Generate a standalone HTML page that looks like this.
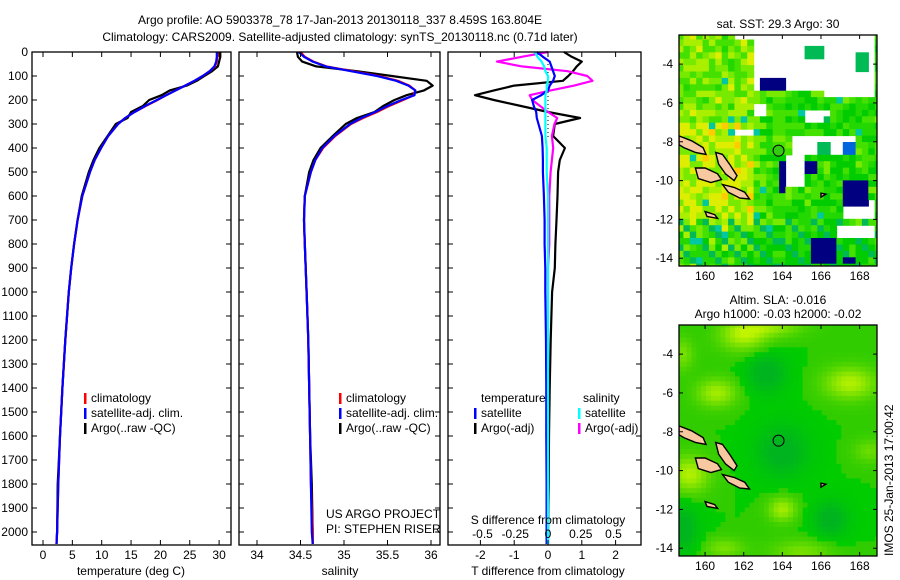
<!DOCTYPE html>
<html><head><meta charset="utf-8">
<style>
html,body{margin:0;padding:0;background:#fff;}
svg{display:block;font-family:"Liberation Sans",sans-serif;}
text{font-size:12px;fill:#000;}
</style></head>
<body>
<svg id="chart" width="900" height="580" viewBox="0 0 900 580" xmlns="http://www.w3.org/2000/svg">
<text x="340" y="24" text-anchor="middle">Argo profile: AO 5903378_78 17-Jan-2013 20130118_337 8.459S 163.804E</text>
<text x="340" y="41" text-anchor="middle">Climatology: CARS2009. Satellite-adjusted climatology: synTS_20130118.nc (0.71d later)</text>
<g id="p1"></g>
<g id="p2"></g>
<g id="p3"></g>
<g id="m1"></g>
<g id="m2"></g>
<text transform="translate(893,556) rotate(-90)" font-size="12">IMOS 25-Jan-2013 17:00:42</text>
</svg>
<script>
// ---------- data ----------
const depthTicks = [0,100,200,300,400,500,600,700,800,900,1000,1100,1200,1300,1400,1500,1600,1700,1800,1900,2000];
const tempTicks = [0,5,10,15,20,25,30];
const salTicks = [34,34.5,35,35.5,36];
const tdiffTicks = [-2,-1,0,1,2];
const sdiffTicks = [-0.5,-0.25,0,0.25,0.5];
const depths = [0,20,40,60,80,100,120,140,160,180,200,225,250,275,300,350,400,450,500,600,700,800,900,1000,1200,1400,1600,1800,2000,2050];
const tempClim = [29.8,29.7,29.6,29.3,28.4,27.2,25.8,24.2,22.6,21.0,19.5,17.5,15.6,14.0,12.8,11.1,9.9,8.8,8.0,6.7,5.9,5.3,4.8,4.4,3.8,3.3,2.9,2.6,2.4,2.3];
const tempSat = [29.6,29.6,29.5,29.2,28.4,27.2,25.8,24.2,22.6,21.0,19.4,17.4,15.6,14.0,12.8,11.1,9.9,8.8,8.0,6.7,5.9,5.3,4.8,4.4,3.8,3.3,2.9,2.6,2.4,2.3];
const tempArgo = [30.2,30.2,30.0,29.8,28.8,27.5,26.2,24.5,21.6,20.2,18.1,17.0,15.0,14.4,12.4,11.0,9.6,8.6,7.8,6.6,5.9,5.3,4.8,4.4,3.8,3.3,2.9,2.5,2.4,2.3];
const salClim = [34.50,34.55,34.65,34.80,35.10,35.40,35.62,35.75,35.82,35.80,35.68,35.52,35.38,35.22,35.08,34.90,34.76,34.67,34.62,34.55,34.54,34.55,34.56,34.57,34.59,34.60,34.61,34.62,34.64,34.64];
const salSat = [34.48,34.54,34.64,34.79,35.08,35.38,35.60,35.74,35.82,35.81,35.66,35.50,35.36,35.20,35.07,34.89,34.75,34.67,34.62,34.55,34.54,34.55,34.56,34.57,34.59,34.60,34.61,34.62,34.63,34.64];
const salArgo = [34.46,34.47,34.52,34.68,35.15,35.55,35.95,36.02,35.92,35.72,35.58,35.45,35.35,35.15,35.02,34.87,34.73,34.65,34.60,34.55,34.54,34.55,34.56,34.57,34.59,34.60,34.61,34.63,34.64,34.64];
const tdiffSat = [-0.33,-0.15,0.05,0.1,0.15,0.2,0.15,0.05,0.0,-0.2,-0.47,-0.42,-0.35,-0.33,-0.28,-0.18,-0.16,-0.15,-0.15,-0.12,-0.1,-0.1,-0.08,-0.08,-0.06,-0.05,-0.05,-0.04,-0.04,-0.04];
const tdiffArgo = [0.47,0.7,1.0,0.85,0.74,0.6,0.44,-1.0,-1.6,-2.16,-1.6,-0.8,0.0,0.95,0.2,0.15,0.5,0.35,0.3,0.28,0.25,0.22,0.2,0.12,0.08,0.05,0.03,0.02,0.0,0.0];
const sdiffSat = [-0.10,-0.08,-0.05,-0.03,-0.02,0.0,0.0,-0.01,-0.01,-0.02,-0.02,-0.02,-0.02,-0.02,-0.02,-0.02,-0.01,-0.01,-0.01,0.0,0.0,0.0,0.0,0.0,0.0,0.0,0.0,0.0,0.0,0.0];
const sdiffArgo = [0.0,-0.2,-0.39,-0.2,0.15,0.3,0.34,0.2,0.02,-0.14,-0.12,-0.06,0.0,0.07,0.05,0.03,0.04,0.03,0.02,0.01,0.01,0.01,0.0,0.0,0.0,0.0,0.0,0.0,0.0,0.0];

const NS = "http://www.w3.org/2000/svg";
function mk(parent, tag, attrs){const e=document.createElementNS(NS,tag);for(const k in attrs)e.setAttribute(k,attrs[k]);parent.appendChild(e);return e;}
const pTop=52, pBot=545;
const yD = d => pTop + d*0.24;

function panel(g, x0, x1, xs, ticks, fmt, showY){
  for(const d of depthTicks){
    const y=yD(d);
    const t1=mk(g,'line',{x1:x0,x2:x0+5,y1:y,y2:y,stroke:'#000'});
    
    
    mk(g,'line',{x1:x1-5,x2:x1,y1:y,y2:y,stroke:'#000'});
    if(showY){
      const t=mk(g,'text',{x:x0-4,y:y+4,'text-anchor':'end'});t.textContent=d;
      
      
    }
  }
  for(const v of ticks){
    const x=xs(v);
    mk(g,'line',{x1:x,x2:x,y1:pBot,y2:pBot-5,stroke:'#000'});
    mk(g,'line',{x1:x,x2:x,y1:pTop,y2:pTop+5,stroke:'#000'});
    const t=mk(g,'text',{x:x,y:pBot+14,'text-anchor':'middle'});t.textContent=fmt(v);
    
    
  }
  const r=mk(g,'rect',{x:x0,y:pTop,width:x1-x0,height:pBot-pTop,fill:'none',stroke:'#000','stroke-width':1.3});
  
  
}
function series(g, xs, vals, color, name){
  const pts=vals.map((v,i)=>xs(v).toFixed(1)+','+yD(depths[i]).toFixed(1)).join(' ');
  const p=mk(g,'polyline',{points:pts,fill:'none',stroke:color,'stroke-width':2.2,'stroke-linejoin':'round'});
  
  
}
function txt(g,x,y,s,name,anchor){const t=mk(g,'text',{x:x,y:y,'text-anchor':anchor||'start'});t.textContent=s;
  
  return t;}
function legend(g,x,y,color,label){
  const r=mk(g,'rect',{x:x,y:y-9,width:2.5,height:11,fill:color});
  
  
  txt(g,x+7,y,label,'legend-entry');
}

// Panel 1
const p1=document.getElementById('p1');
const xT=v=>43+v*5.87;
series(p1,xT,tempArgo,'#000','argo-temperature-line');
series(p1,xT,tempClim,'#f00','climatology-temperature-line');
series(p1,xT,tempSat,'#00f','satellite-temperature-line');
panel(p1,32,231,xT,tempTicks,v=>v,true);
txt(p1,131,575,'temperature (deg C)','x-axis-title','middle');
legend(p1,84,402,'#f00','climatology');
legend(p1,84,417,'#00f','satellite-adj. clim.');
legend(p1,84,432,'#000','Argo(..raw -QC)');

// Panel 2
const p2=document.getElementById('p2');
const xS=v=>257+(v-34)*87;
series(p2,xS,salArgo,'#000','argo-salinity-line');
series(p2,xS,salClim,'#f00','climatology-salinity-line');
series(p2,xS,salSat,'#00f','satellite-salinity-line');
panel(p2,239,440,xS,salTicks,v=>v,false);
txt(p2,340,575,'salinity','x-axis-title','middle');
legend(p2,339,402,'#f00','climatology');
legend(p2,339,417,'#00f','satellite-adj. clim.');
legend(p2,339,432,'#000','Argo(..raw -QC)');
txt(p2,326,518,'US ARGO PROJECT','project-label');
txt(p2,326,533,'PI: STEPHEN RISER','pi-label');

// Panel 3
const p3=document.getElementById('p3');
const xTd=v=>548+v*33.8;
const xSd=v=>548+v*131;
mk(p3,'line',{x1:548,x2:548,y1:pTop,y2:140,stroke:'#000','stroke-dasharray':'1,3'});
series(p3,xTd,tdiffArgo,'#000','argo-temperature-diff-line');
series(p3,xSd,sdiffArgo,'#f0f','argo-salinity-diff-line');
series(p3,xTd,tdiffSat,'#00f','satellite-temperature-diff-line');
series(p3,xSd,sdiffSat,'#0ff','satellite-salinity-diff-line');
panel(p3,448,641,xTd,tdiffTicks,v=>v,false);
for(const v of sdiffTicks){txt(p3,xSd(v),538,String(v),'s-diff-tick-label','middle');}
txt(p3,548,524,'S difference from climatology','s-diff-axis-title','middle');
txt(p3,548,575,'T difference from climatology','x-axis-title','middle');
txt(p3,481,402,'temperature','legend-title');
txt(p3,583,402,'salinity','legend-title');
legend(p3,474,417,'#00f','satellite');
legend(p3,474,432,'#000','Argo(-adj)');
legend(p3,578,417,'#0ff','satellite');
legend(p3,578,432,'#f0f','Argo(-adj)');

// ---------- maps ----------
const lonTicks=[160,162,164,166,168];
const latTicks=[-4,-6,-8,-10,-12,-14];
const islands=[
 [[158.65,-7.7],[159.3,-7.95],[159.9,-8.3],[160.05,-8.65],[159.5,-8.55],[158.9,-8.3],[158.65,-8.15]],
 [[160.55,-8.55],[160.9,-8.65],[161.3,-9.2],[161.65,-9.75],[161.5,-10.0],[161.05,-9.65],[160.7,-9.15]],
 [[159.5,-9.35],[160.0,-9.35],[160.65,-9.65],[160.85,-9.95],[160.3,-10.1],[159.65,-9.9]],
 [[160.9,-10.2],[161.5,-10.35],[162.05,-10.6],[162.3,-10.95],[161.8,-10.9],[161.2,-10.6]],
 [[160.0,-11.6],[160.5,-11.75],[160.65,-11.95],[160.1,-11.85]],
 [[166.0,-10.65],[166.25,-10.7],[166.0,-10.85]]
];
const sstPalette=['#00cc00','#22d800','#44e000','#77ea00','#aaee00','#ddee00','#ffcc00','#00bb55','#00c8a0'];
const sstWhite=[[162.4,168.7,-2.4,-5.3],[166,168.7,-5.3,-5.6],[161.6,168.7,-2.4,-2.75],[162.6,163.3,-5.9,-6.8],[165.0,166.5,-6.3,-7.0],[161.6,162.5,-7.3,-7.6],[164.4,167.8,-7.8,-8.75],[164.1,165.0,-8.75,-10.2],[167.0,168.7,-11.1,-12.1],[166.8,168.7,-12.3,-12.8],[167.6,168.7,-13.8,-14.1]];
const sstGreen=[[165.3,166.0,-2.9,-3.6],[167.8,168.5,-3.5,-4.3],[165.8,166.5,-8.1,-8.75],[166.0,166.6,-6.6,-7.1]];
const sstNavy=[[162.9,164.1,-4.7,-5.4],[165.0,165.7,-8.85,-9.5],[163.8,164.2,-9.1,-10.5],[167.0,168.6,-10.0,-11.3],[165.5,166.8,-12.8,-14.4],[167.0,167.8,-13.8,-14.4],[168.4,168.6,-3.8,-4.4]];
const sstBlue=[[167.0,167.8,-8.1,-8.75]];
const slaBlobs=[[162,-3,1.2,0.8],[160.6,-6,1.0,0.7],[167.5,-5.5,1.3,0.8],[159.2,-10.2,1.0,0.9],[164,-12,0.7,0.6],[165,-14.2,1.5,0.6],[161,-14,1,0.5],[168.5,-9,0.8,0.6],[163.5,-2.6,1.5,0.5],[158.8,-4,0.6,0.8]];
const slaBlobAmp=[0.9,0.8,0.9,0.9,0.8,0.5,0.5,0.4,0.6,0.5];
const slaDark=[[163.2,-5,1.0,1.0],[164,-9,1.3,1.3],[158.8,-13,0.8,1.2],[166.5,-12.5,0.9,0.9]];

function map(g, x0, y0, title, titleLines, kind){
  const w=198, h=231, lon0=158.65, lon1=168.9, lat0=-2.5, lat1=-14.4;
  const X=lon=>x0+(lon-lon0)/(lon1-lon0)*w;
  const Y=lat=>y0+(lat0-lat)/(lat0-lat1)*h;
  const cid='clip'+kind;
  const cp=mk(g,'clipPath',{id:cid});mk(cp,'rect',{x:x0,y:y0,width:w,height:h});
  const cg=mk(g,'g',{'clip-path':'url(#'+cid+')'});
  const inR=(lon,lat,r)=>lon>=r[0]&&lon<r[1]&&lat<=r[2]&&lat>r[3];
  const step= kind==='sst'?0.33:0.25;
  for(let lon=lon0-0.1;lon<lon1;lon+=step){
    for(let lat=lat0+0.1;lat>lat1-step;lat-=step){
      const cl=lon+step/2, ca=lat-step/2;
      let col;
      if(kind==='sst'){
        if(sstNavy.some(r=>inR(cl,ca,r))) col='#000080';
        else if(sstBlue.some(r=>inR(cl,ca,r))) col='#0066dd';
        else if(sstGreen.some(r=>inR(cl,ca,r))) col='#00bb55';
        else if(sstWhite.some(r=>inR(cl,ca,r))) continue;
        else{
          const i=Math.round(lon*3), j=Math.round(lat*3);
          const hsh=((i*73856093)^(j*19349663))>>>0;
          let warm=(cl<162.5?1.8:0.4)+(ca<-7&&ca>-12&&cl<163?1.3:0)-(ca<-12.5?1.2:0)-(cl>164.5?0.6:0);
          let k=Math.floor((hsh%1000)/1000*3.5+warm);
          if(ca<-12&&hsh%4===0)k=7; if(hsh%41===0)k=8;
          k=Math.max(0,Math.min(8,k)); if(k===6&&hsh%3!==0)k=5;
          col=sstPalette[k];
        }
      } else {
        let v=0;
        slaBlobs.forEach((b,n)=>{v+=slaBlobAmp[n]*Math.exp(-(((cl-b[0])/b[2])**2+((ca-b[1])/b[3])**2));});
        slaDark.forEach(b=>{v-=0.6*Math.exp(-(((cl-b[0])/b[2])**2+((ca-b[1])/b[3])**2));});
        v=Math.max(-0.5,Math.min(1,v));
        const r=v>0?Math.round(0x30+v*0x90):0, gg=v>0?Math.round(0xcc+v*0x28):Math.round(0xcc+v*0.5*0x60), bb=v<0?Math.round(-v*0x40):0;
        col='rgb('+r+','+gg+','+bb+')';
      }
      mk(cg,'rect',{x:X(lon).toFixed(1),y:Y(lat).toFixed(1),width:(step*19.3+0.6).toFixed(1),height:(step*19.4+0.6).toFixed(1),fill:col});
    }
  }
  islands.forEach(isl=>{
    const p=mk(cg,'polygon',{points:isl.map(q=>X(q[0]).toFixed(1)+','+Y(q[1]).toFixed(1)).join(' '),fill:'#f8c8a0',stroke:'#000','stroke-width':1.4});
    
    
  });
  const circ=mk(g,'circle',{cx:X(163.804),cy:Y(-8.459),r:5.5,fill:kind==='sst'?'#33cc11':'none',stroke:'#000','stroke-width':1});
  
  
  const fr=mk(g,'rect',{x:x0,y:y0,width:w,height:h,fill:'none',stroke:'#000','stroke-width':1.3});
  
  
  for(const lo of lonTicks){const x=X(lo);
    mk(g,'line',{x1:x,x2:x,y1:y0,y2:y0+4,stroke:'#000'});mk(g,'line',{x1:x,x2:x,y1:y0+h,y2:y0+h-4,stroke:'#000'});
    txt(g,x,y0+h+14,String(lo),'lon-tick-label','middle');}
  for(const la of latTicks){const y=Y(la);
    mk(g,'line',{x1:x0,x2:x0+4,y1:y,y2:y,stroke:'#000'});mk(g,'line',{x1:x0+w-4,x2:x0+w,y1:y,y2:y,stroke:'#000'});
    txt(g,x0-6,y+4,String(la),'lat-tick-label','end');}
  titleLines.forEach((s,i)=>txt(g,x0+w/2,y0-7-(titleLines.length-1-i)*14,s,'map-title','middle'));
}
map(document.getElementById('m1'),679,35,'',['sat. SST: 29.3 Argo: 30'],'sst');
map(document.getElementById('m2'),679,325,'',['Altim. SLA: -0.016','Argo h1000: -0.03 h2000: -0.02'],'sla');
</script>
</body></html>
